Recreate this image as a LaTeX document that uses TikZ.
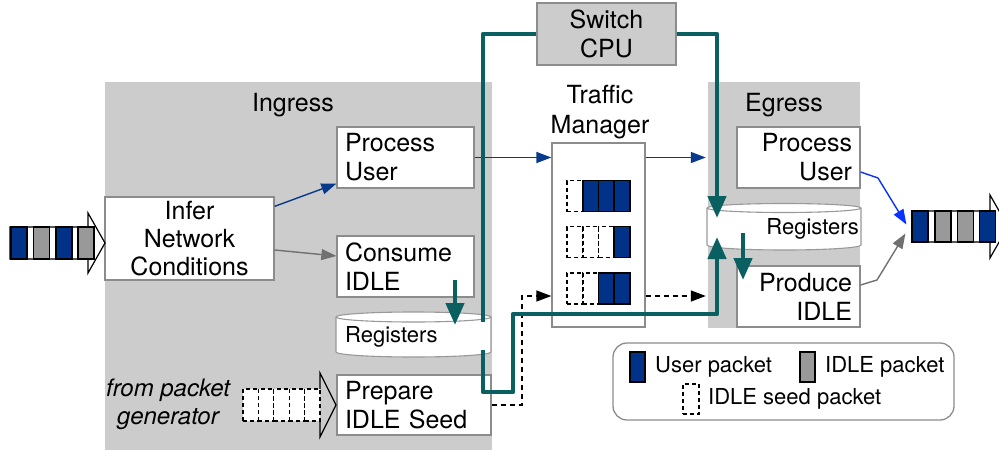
\documentclass[tikz,border=0pt]{standalone}
\usepackage{fontspec}
\setmainfont{TeX Gyre Heros}
\usetikzlibrary{arrows.meta}
\definecolor{regiongray}{HTML}{CCCCCC}
\definecolor{boxgray}{HTML}{8C8C8C}
\definecolor{userblue}{HTML}{003388}
\definecolor{idlegray}{HTML}{999999}
\definecolor{tealc}{HTML}{0A6060}
\definecolor{navyarrow}{HTML}{083A8C}
\definecolor{brightblue}{HTML}{0A32FF}
\definecolor{grayarrow}{HTML}{707070}
\newcommand\mainsz{\fontsize{25}{29}\selectfont}
\newcommand\smallsz{\fontsize{22}{26}\selectfont}
\begin{document}
\begin{tikzpicture}[x=1pt,y=-1pt,
  region/.style={fill=regiongray, draw=none, inner sep=0pt},
  box/.style={draw=boxgray, fill=white, line width=1.3pt, inner sep=0pt, font=\mainsz},
  lbox/.style={box, align=left, inner xsep=8pt},
  rbox/.style={box, align=right, inner xsep=8pt},
  lbl/.style={inner sep=0pt, font=\mainsz, align=center},
  leg/.style={inner sep=0pt, font=\smallsz, anchor=west},
  upkt/.style={draw=black, fill=userblue, line width=1.2pt, inner sep=0pt, minimum width=16pt, minimum height=31pt},
  ipkt/.style={draw=black, fill=idlegray, line width=1.2pt, inner sep=0pt, minimum width=16pt, minimum height=31pt},
  spkt/.style={draw=black, fill=white, line width=1.2pt, dash pattern=on 4pt off 3pt, inner sep=0pt, minimum width=16pt, minimum height=31pt},
  cyl/.style={draw=idlegray, fill=white, line width=1.1pt},
  thinarrow/.style={line width=1.4pt, -{Triangle[length=15pt,width=11pt]}},
  dasharrow/.style={draw=black, line width=1.3pt, dash pattern=on 5pt off 4pt, -{Triangle[length=15pt,width=11pt]}},
  tealline/.style={draw=tealc, line width=4.5pt, line join=round},
  tealarrow/.style={tealline, -{Triangle[length=22pt,width=18pt]}},
  blockarrow/.style={draw=black, fill=white, line width=1.2pt, line join=miter}
]
\useasboundingbox (0,0) rectangle (999,450);

% regions
\node[region, minimum width=387pt, minimum height=368pt] (ing) at (298.5,266) {};
\node[region, minimum width=152pt, minimum height=246pt] (egr) at (784,205) {};
\node[lbl] (lblIng) at (293,105) {Ingress};
\node[lbl] (lblEg) at (784,105) {Egress};

% Switch CPU
\node[box, fill=regiongray, minimum width=139pt, minimum height=62pt, align=center] (cpu) at (606.5,34) {Switch\\CPU};

% Traffic manager
\node[lbl, font=\fontsize{25}{30}\selectfont] (lblTM) at (600,112) {Traffic\\Manager};
\node[box, minimum width=93pt, minimum height=184pt] (tm) at (598.5,235) {};

% ingress boxes
\node[box, minimum width=169pt, minimum height=83pt, align=center, font=\fontsize{25}{28}\selectfont] (infer) at (189.5,238.5) {Infer\\Network\\Conditions};
\node[lbox, text width=121pt, minimum height=61pt] (procI) at (405.5,157.5) {Process\\User};
\node[lbox, text width=121pt, minimum height=61pt] (consume) at (405.5,266.5) {Consume\\IDLE};
\node[lbox, text width=138pt, minimum height=60pt] (prep) at (414,405) {Prepare\\IDLE Seed};

% egress boxes
\node[rbox, text width=107pt, minimum height=61pt] (procE) at (798.5,157.5) {Process\\User};
\node[rbox, text width=107pt, minimum height=61pt] (prodE) at (798.5,296.5) {Produce\\IDLE};

% ingress registers cylinder
\draw[cyl] (336,317) -- (336,352) arc[start angle=180,end angle=360,x radius=77.5pt,y radius=5pt] -- (491,317) arc[start angle=0,end angle=180,x radius=77.5pt,y radius=5pt] -- cycle;
\draw[cyl] (336,317) arc[start angle=180,end angle=360,x radius=77.5pt,y radius=5pt];
\node[inner sep=0pt, font=\smallsz, anchor=west] (regI) at (345,337) {Registers};

% egress registers cylinder
\draw[cyl] (707,208) -- (707,245) arc[start angle=180,end angle=360,x radius=77pt,y radius=5pt] -- (861,208) arc[start angle=0,end angle=180,x radius=77pt,y radius=4.5pt] -- cycle;
\draw[cyl] (707,208) arc[start angle=180,end angle=360,x radius=77pt,y radius=4.5pt];
\node[inner sep=0pt, font=\smallsz, anchor=east] (regE) at (859,229) {Registers};

% TM queues
\node[spkt] (q11) at (575,196) {};
\node[upkt] (q12) at (591,196) {};
\node[upkt] (q13) at (606.5,196) {};
\node[upkt] (q14) at (622,196) {};
\node[spkt] (q21) at (575,242) {};
\node[spkt] (q22) at (591,242) {};
\node[spkt] (q23) at (606.5,242) {};
\node[upkt] (q24) at (622,242) {};
\node[spkt] (q31) at (575,288.5) {};
\node[spkt] (q32) at (591,288.5) {};
\node[upkt] (q33) at (606.5,288.5) {};
\node[upkt] (q34) at (622,288.5) {};

% input packet arrow
\draw[blockarrow] (10,227) -- (88,227) -- (88,213) -- (105,243) -- (88,273) -- (88,259) -- (10,259) -- cycle;
\node[upkt, minimum height=32pt] (in1) at (19,243) {};
\node[ipkt, minimum height=32pt] (in2) at (41.5,243) {};
\node[upkt, minimum height=32pt] (in3) at (64,243) {};
\node[ipkt, minimum height=32pt] (in4) at (86,243) {};

% output packet arrow
\draw[blockarrow] (912,211) -- (990,211) -- (990,195) -- (1008,226.5) -- (990,258) -- (990,242) -- (912,242) -- cycle;
\node[upkt] (out1) at (920,226.5) {};
\node[ipkt] (out2) at (943,226.5) {};
\node[ipkt] (out3) at (965.5,226.5) {};
\node[upkt] (out4) at (987.5,226.5) {};

% packet generator arrow
\fill[white] (243,389) rectangle (320,421);
\draw[black, line width=1.2pt, line join=miter] (320,389) -- (320,373) -- (336,405) -- (320,437) -- (320,421);
\foreach \i/\x in {1/250.7,2/266.1,3/281.5,4/296.9,5/312.3}
  \node[spkt, minimum width=15.4pt, minimum height=32pt] (g\i) at (\x,405) {};
\node[lbl, font=\itshape\fontsize{24}{28}\selectfont] (lblGen) at (168,404) {from packet\\generator};

% thin arrows
\draw[thinarrow, navyarrow] ([yshift=-10pt]infer.north east) -- ([yshift=5pt]procI.south west);
\draw[thinarrow, grayarrow] ([yshift=-11.5pt]infer.east) -- ([yshift=10.5pt]consume.west);
\draw[thinarrow, navyarrow] (procI.east) -- (procI.east -| tm.west);
\draw[thinarrow, navyarrow] (procI.east -| tm.east) -- ([xshift=-2pt]procI.east -| egr.west);
\coordinate (b1) at (878,178);
\coordinate (b2) at (877,280);
\draw[thinarrow, brightblue, line join=round] ([yshift=-14.5pt]procE.east) -- (b1) -- ([xshift=-5pt,yshift=2pt]out1.west);
\draw[thinarrow, grayarrow, line join=round] ([yshift=11.5pt]prodE.east) -- (b2) -- ([xshift=-6pt,yshift=-7pt]out1.west);

% dashed arrows
\coordinate (d1) at (522,296);
\draw[dasharrow] (prep.east) -| (d1) -- (d1 -| tm.west);
\draw[dasharrow] (d1 -| tm.east) -- ([xshift=-2pt]d1 -| egr.west);

% teal paths
\coordinate (t1) at (483,322);
\coordinate (t2) at (717,218);
\coordinate (t3) at (483,350);
\coordinate (t4) at (513,392);
\coordinate (t6) at (717,314);
\coordinate (t5) at (717,237);
\coordinate (c1) at (455,280);
\coordinate (c2) at (455,325);
\coordinate (e1) at (743,233);
\coordinate (e2) at (743,280);
\draw[tealline] (t1) |- (cpu.west);
\draw[tealarrow] (cpu.east) -| (t2);
\draw[tealarrow] (t3) |- (t4) |- (t6) -- (t5);
\draw[tealarrow] (c1) -- (c2);
\draw[tealarrow] (e1) -- (e2);

% legend
\node[draw=boxgray, fill=white, line width=1.3pt, rounded corners=14pt, minimum width=341pt, minimum height=77pt, inner sep=0pt] (legend) at (783.5,381.5) {};
\node[upkt, minimum width=15pt, minimum height=30pt] (lgU) at (637.5,367) {};
\node[leg] (lgUt) at (655,367) {User packet};
\node[ipkt, minimum width=15pt, minimum height=30pt] (lgI) at (807.5,367) {};
\node[leg] (lgIt) at (825,367) {IDLE packet};
\node[spkt, minimum width=16pt, minimum height=30pt] (lgS) at (691,399) {};
\node[leg] (lgSt) at (708,399) {IDLE seed packet};
\end{tikzpicture}
\end{document}
